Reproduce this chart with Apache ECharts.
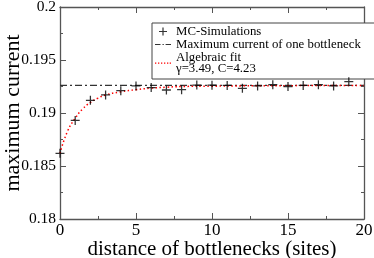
<!DOCTYPE html>
<html>
<head>
<meta charset="utf-8">
<script src="https://cdn.jsdelivr.net/npm/echarts@6/dist/echarts.min.js"></script>
<style>html,body{margin:0;padding:0;background:#fff}#c{width:374px;height:258px}</style>
</head>
<body>
<div id="c"></div>
<script>
// MC simulation points (distance in sites, maximum current)
const simX = [0,1,2,3,4,5,6,7,8,9,10,11,12,13,14,15,16,17,18,19];
const simY = [0.1862,0.1893,0.1912,0.1917,0.1921,0.19255,0.1924,0.19217,0.1922,0.19264,0.19262,0.1926,0.19233,0.19255,0.19267,0.1925,0.1926,0.19267,0.19255,0.19295];
// maximum current of one bottleneck
const maxCurrent = 0.1926;
// algebraic fit curve
const fitX = [0,0.5,1,1.5,2,2.5,3,4,5,6,7,8,10,12,15,20];
const fitY = [0.1862,0.1883,0.1895,0.1904,0.1910,0.1914,0.1917,0.1920,0.1922,0.19235,0.19243,0.1925,0.19253,0.19256,0.19258,0.1926];
const xTicks = [0,5,10,15,20];
const yTicks = [0.18,0.185,0.19,0.195,0.2];
const legendNames = ['MC-Simulations','Maximum current of one bottleneck','Algebraic fit'];
const fitLabel = 'γ=3.49, C=4.23';

const font = '"Liberation Serif","DejaVu Serif",serif';
const axisColor = '#555';
const plus = 'path://M4,0h1.4v4.3h4.3v1.4h-4.3v4.3h-1.4v-4.3h-4.3v-1.4h4.3z';
// legend icons in a 16x11 box (tiny corner squares fix the box)
const box = 'M0,0h0.01v0.01h-0.01z M15.99,10.99h0.01v0.01h-0.01z ';
const iconPlus = 'path://' + box + 'M7.4,1.5h1.2v3.4h3.4v1.2h-3.4v3.4h-1.2v-3.4h-3.4v-1.2h3.4z';
const iconDashDot = 'path://' + box + 'M0,5h5.5v1.1h-5.5z M7.5,5h1.3v1.1h-1.3z M10.6,5h5.4v1.1h-5.4z';
const iconDots = 'path://' + box + 'M0,5h1.3v1.3h-1.3z M3,5h1.3v1.3h-1.3z M6,5h1.3v1.3h-1.3z M9,5h1.3v1.3h-1.3z M12,5h1.3v1.3h-1.3z M14.7,5h1.3v1.3h-1.3z';

const chart = echarts.init(document.getElementById('c'), null, {renderer:'canvas'});
const baseX = {
  type:'value', min:xTicks[0], max:xTicks[xTicks.length-1], interval:5,
  axisLine:{show:true, onZero:false, lineStyle:{color:axisColor, width:1.3}},
  axisTick:{show:true, inside:true, length:6, lineStyle:{color:axisColor}},
  minorTick:{show:true, splitNumber:2, length:3, lineStyle:{color:axisColor}},
  splitLine:{show:false}
};
const baseY = {
  type:'value', min:yTicks[0], max:yTicks[yTicks.length-1], interval:0.005,
  axisLine:{show:true, onZero:false, lineStyle:{color:axisColor, width:1.3}},
  axisTick:{show:true, inside:true, length:6, lineStyle:{color:axisColor}},
  minorTick:{show:true, splitNumber:2, length:3, lineStyle:{color:axisColor}},
  splitLine:{show:false}
};
chart.setOption({
  animation:false,
  backgroundColor:'#fff',
  grid:{left:60, right:10, top:7, bottom:39, containLabel:false, outerBoundsMode:'none'},
  xAxis:[
    Object.assign({}, baseX, {position:'bottom',
      name:'distance of bottlenecks (sites)', nameLocation:'middle', nameGap:20, nameMoveOverlap:false,
      nameTextStyle:{fontFamily:font, fontSize:21, color:'#000'},
      axisLabel:{show:true, margin:3, fontFamily:font, fontSize:17, color:'#000',
        formatter:v=>String(v)}}),
    Object.assign({}, baseX, {position:'top', axisLabel:{show:false}})
  ],
  yAxis:[
    Object.assign({}, baseY, {position:'left',
      name:'maximum current', nameLocation:'middle', nameGap:36, nameRotate:90, nameMoveOverlap:false,
      nameTextStyle:{fontFamily:font, fontSize:22, color:'#000'},
      axisLabel:{show:true, margin:4, fontFamily:font, fontSize:15.5, color:'#000',
        formatter:v=>String(+v.toFixed(3))}}),
    Object.assign({}, baseY, {position:'right', axisLabel:{show:false}})
  ],
  legend:{
    orient:'vertical', left:152, top:23,
    data:[
      {name:legendNames[0], icon:iconPlus, itemStyle:{color:'#000'}},
      {name:legendNames[1], icon:iconDashDot, itemStyle:{color:'#333'}},
      {name:legendNames[2], icon:iconDots, itemStyle:{color:'#ff0000'}}
    ],
    backgroundColor:'#fff', borderColor:'#444', borderWidth:1,
    padding:[2,14,4,3], itemGap:0, itemWidth:16, itemHeight:11,
    textStyle:{fontFamily:font, fontSize:12.8, color:'#000', lineHeight:11},
    formatter:n=> n===legendNames[2] ? n+'\n'+fitLabel : n
  },
  series:[
    {name:legendNames[0], type:'scatter', symbol:plus, symbolSize:9,
      itemStyle:{color:'#000'}, z:5,
      data:simX.map((x,i)=>[x,simY[i]])},
    {name:legendNames[1], type:'line', showSymbol:false, symbol:'none',
      lineStyle:{color:'#333', width:1.2, type:[7,3,2,3]},
      itemStyle:{color:'#333'},
      data:[[xTicks[0],maxCurrent],[xTicks[xTicks.length-1],maxCurrent]]},
    {name:legendNames[2], type:'line', smooth:true, showSymbol:false, symbol:'none',
      lineStyle:{color:'#ff0000', width:1.5, type:[1.5,2.5]},
      itemStyle:{color:'#ff0000'},
      data:fitX.map((x,i)=>[x,fitY[i]])}
  ]
});
</script>
</body>
</html>
